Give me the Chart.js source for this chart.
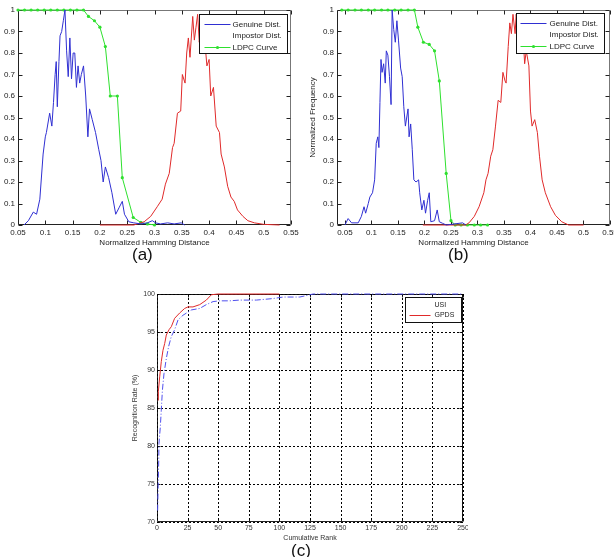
<!DOCTYPE html>
<html>
<head>
<meta charset="utf-8">
<script src="https://cdn.jsdelivr.net/npm/chart.js@4.4.1/dist/chart.umd.min.js"></script>
<style>
  html, body { margin: 0; padding: 0; background: #fff; }
  body { width: 614px; height: 557px; position: relative; overflow: hidden; font-family: "Liberation Sans", Arial, sans-serif; }
  canvas { position: absolute; }
  .tag { position: absolute; font-size: 17px; line-height: 20px; color: #111; }
</style>
</head>
<body>
<canvas id="chartA" width="300" height="250" style="left:0;top:0"></canvas>
<canvas id="chartB" width="314" height="250" style="left:300px;top:0"></canvas>
<canvas id="chartC" width="340" height="262" style="left:128px;top:284px"></canvas>
<div class="tag" style="left:132px;top:245px">(a)</div>
<div class="tag" style="left:448px;top:245px">(b)</div>
<div class="tag" style="left:291px;top:541px">(c)</div>

<script>
// ticks
const hdTicks = [0.05, 0.1, 0.15, 0.2, 0.25, 0.3, 0.35, 0.4, 0.45, 0.5, 0.55];
const hdLabels = ["0.05", "0.1", "0.15", "0.2", "0.25", "0.3", "0.35", "0.4", "0.45", "0.5", "0.55"];
const freqTicks = [0, 0.1, 0.2, 0.3, 0.4, 0.5, 0.6, 0.7, 0.8, 0.9, 1];
const freqLabels = ["0", "0.1", "0.2", "0.3", "0.4", "0.5", "0.6", "0.7", "0.8", "0.9", "1"];
const rankTicks = [0, 25, 50, 75, 100, 125, 150, 175, 200, 225, 250];
const rateTicks = [70, 75, 80, 85, 90, 95, 100];

// (a)
const genAx = [0.061, 0.069, 0.078, 0.084, 0.09, 0.096, 0.1, 0.102, 0.108, 0.112, 0.115, 0.118, 0.12, 0.122, 0.125, 0.127, 0.13, 0.133, 0.136, 0.139, 0.142, 0.145, 0.148, 0.151, 0.154, 0.157, 0.16, 0.163, 0.166, 0.17, 0.174, 0.178, 0.181, 0.186, 0.192, 0.198, 0.202, 0.206, 0.21, 0.216, 0.222, 0.229, 0.235, 0.241, 0.245, 0.253, 0.262, 0.275, 0.287, 0.296, 0.302, 0.311, 0.324, 0.336, 0.349, 0.355];
const genAy = [0, 0.02, 0.06, 0.05, 0.12, 0.33, 0.41, 0.43, 0.52, 0.46, 0.57, 0.7, 0.76, 0.55, 0.76, 0.88, 0.9, 0.95, 1.0, 0.81, 0.69, 0.87, 0.68, 0.8, 0.8, 0.64, 0.74, 0.66, 0.7, 0.74, 0.6, 0.41, 0.54, 0.49, 0.43, 0.35, 0.3, 0.2, 0.27, 0.22, 0.15, 0.05, 0.08, 0.11, 0.05, 0.015, 0.01, 0.005, 0.01, 0.02, 0.01, 0.005, 0.01, 0.005, 0.01, 0];
const impAx = [0.2, 0.262, 0.281, 0.293, 0.305, 0.314, 0.32, 0.327, 0.333, 0.336, 0.342, 0.348, 0.351, 0.356, 0.359, 0.362, 0.365, 0.37, 0.373, 0.376, 0.379, 0.382, 0.385, 0.388, 0.392, 0.396, 0.4, 0.403, 0.408, 0.413, 0.419, 0.422, 0.428, 0.434, 0.44, 0.446, 0.452, 0.462, 0.471, 0.483, 0.5, 0.529];
const impAy = [0, 0, 0.015, 0.04, 0.085, 0.12, 0.19, 0.24, 0.36, 0.38, 0.52, 0.53, 0.7, 0.66, 0.8, 0.87, 0.78, 0.97, 0.86, 0.92, 0.98, 0.85, 0.92, 0.8, 0.86, 0.74, 0.77, 0.6, 0.64, 0.46, 0.43, 0.33, 0.27, 0.18, 0.13, 0.11, 0.07, 0.04, 0.02, 0.01, 0.003, 0];
const ldpcAx = [0.05, 0.062, 0.074, 0.086, 0.098, 0.11, 0.122, 0.134, 0.146, 0.158, 0.17, 0.179, 0.19, 0.2, 0.21, 0.219, 0.232, 0.241, 0.261, 0.275, 0.287, 0.3];
const ldpcAy = [1, 1, 1, 1, 1, 1, 1, 1, 1, 1, 1, 0.97, 0.95, 0.92, 0.83, 0.6, 0.6, 0.22, 0.035, 0.012, 0.005, 0];

// (b)
const genBx = [0.05, 0.056, 0.0625, 0.075, 0.081, 0.086, 0.089, 0.094, 0.097, 0.102, 0.106, 0.109, 0.112, 0.114, 0.116, 0.118, 0.12, 0.123, 0.126, 0.128, 0.131, 0.134, 0.137, 0.139, 0.142, 0.145, 0.148, 0.151, 0.155, 0.158, 0.161, 0.164, 0.169, 0.171, 0.174, 0.177, 0.18, 0.184, 0.189, 0.191, 0.195, 0.199, 0.202, 0.206, 0.209, 0.212, 0.219, 0.224, 0.228, 0.234, 0.241, 0.272, 0.278];
const genBy = [0, 0.03, 0.01, 0.01, 0.04, 0.085, 0.055, 0.1, 0.13, 0.15, 0.21, 0.38, 0.41, 0.36, 0.57, 0.77, 0.71, 0.75, 0.66, 0.81, 0.79, 0.69, 0.56, 1.0, 0.91, 0.85, 0.95, 0.86, 0.73, 0.69, 0.55, 0.46, 0.54, 0.41, 0.47, 0.35, 0.21, 0.2, 0.21, 0.15, 0.07, 0.115, 0.055, 0.115, 0.15, 0.015, 0.02, 0.07, 0.015, 0.008, 0, 0.01, 0];
const impBx = [0.197, 0.278, 0.284, 0.294, 0.303, 0.312, 0.316, 0.32, 0.325, 0.329, 0.334, 0.339, 0.344, 0.348, 0.352, 0.354, 0.358, 0.361, 0.364, 0.367, 0.371, 0.373, 0.377, 0.379, 0.383, 0.386, 0.389, 0.392, 0.397, 0.4, 0.403, 0.408, 0.413, 0.417, 0.422, 0.428, 0.438, 0.447, 0.459, 0.472, 0.5];
const impBy = [0, 0, 0.01, 0.04, 0.085, 0.15, 0.21, 0.24, 0.32, 0.35, 0.46, 0.58, 0.57, 0.71, 0.67, 0.66, 0.83, 0.94, 0.89, 0.98, 0.89, 0.98, 0.91, 0.95, 0.8, 0.88, 0.75, 0.81, 0.74, 0.53, 0.46, 0.49, 0.43, 0.32, 0.21, 0.15, 0.085, 0.045, 0.015, 0, 0];
const ldpcBx = [0.044, 0.056, 0.069, 0.081, 0.094, 0.106, 0.119, 0.131, 0.144, 0.156, 0.169, 0.181, 0.1875, 0.198, 0.209, 0.219, 0.228, 0.241, 0.25, 0.258, 0.269, 0.281, 0.294, 0.306, 0.319];
const ldpcBy = [1, 1, 1, 1, 1, 1, 1, 1, 1, 1, 1, 1, 0.92, 0.85, 0.84, 0.81, 0.67, 0.24, 0.02, 0, 0, 0, 0, 0, 0];

// (c)
const usiRank = [0.5, 0.8, 1.4, 1.6, 2.7, 3.5, 4.4, 5.7, 7.6, 9.5, 11.7, 14.4, 17.2, 21.2, 28, 34.9, 40.3, 45.8, 51.2, 59.4, 67.5, 81.2, 94.8, 103, 116.6, 127.5, 250];
const usiRate = [71.5, 73.7, 77.9, 80.3, 82.5, 84.7, 87.3, 89.5, 91.5, 93.1, 94.4, 95.3, 96.6, 97.2, 97.9, 98.1, 98.6, 99, 99.1, 99.1, 99.2, 99.2, 99.4, 99.6, 99.6, 100, 100];
const gpdsRank = [1, 1.1, 2.2, 3.5, 4.9, 6.3, 7.6, 9.8, 11.7, 14.4, 18.5, 22.6, 25.3, 29.4, 34.9, 40.3, 44.4, 49.8, 100];
const gpdsRate = [86, 87.2, 89.1, 91.1, 92.6, 93.5, 94.6, 95.3, 95.7, 96.8, 97.5, 98.1, 98.3, 98.3, 98.6, 99.2, 99.9, 100, 100];

const BLUE = "#2f2fd2";
const RED = "#e02a2a";
const GREEN = "#2ee02e";

Chart.defaults.font.family = '"Liberation Sans", Arial, sans-serif';
Chart.defaults.font.size = 8;
Chart.defaults.color = "#222";
Chart.defaults.animation = false;

const pts = (xs, ys) => xs.map((x, i) => ({ x, y: ys[i] }));

// matlab style box, inward ticks, optional dotted grid, legend inside the axes
const frame = {
  id: "frame",
  beforeDatasetsDraw(chart, args, o) {
    if (!o.grid) return;
    const { ctx, chartArea: a, scales: { x, y } } = chart;
    ctx.save();
    ctx.strokeStyle = "#000";
    ctx.lineWidth = 1;
    ctx.setLineDash([2, 2]);
    x.ticks.forEach(t => {
      const px = Math.round(x.getPixelForValue(t.value)) + 0.5;
      ctx.beginPath(); ctx.moveTo(px, a.top); ctx.lineTo(px, a.bottom); ctx.stroke();
    });
    y.ticks.forEach(t => {
      const py = Math.round(y.getPixelForValue(t.value)) + 0.5;
      ctx.beginPath(); ctx.moveTo(a.left, py); ctx.lineTo(a.right, py); ctx.stroke();
    });
    ctx.restore();
  },
  beforeDraw(chart, args, o) {
    // box goes under the data, as in matlab the lines sit on top of the top border
    const { ctx, chartArea: a, scales: { x, y } } = chart;
    const L = Math.round(a.left) + 0.5, R = Math.round(a.right) - 0.5;
    const T = Math.round(a.top) + 0.5, B = Math.round(a.bottom) - 0.5;
    const tl = o.tick || 4;
    ctx.save();
    ctx.lineWidth = 1;
    ctx.strokeStyle = o.farColor || "#222";
    ctx.beginPath(); ctx.moveTo(L, T); ctx.lineTo(R, T); ctx.lineTo(R, B); ctx.stroke();
    ctx.strokeStyle = "#222";
    ctx.beginPath(); ctx.moveTo(L, T); ctx.lineTo(L, B); ctx.lineTo(R, B); ctx.stroke();
    x.ticks.forEach(t => {
      const px = Math.round(x.getPixelForValue(t.value)) + 0.5;
      ctx.beginPath();
      ctx.moveTo(px, B); ctx.lineTo(px, B - tl);
      ctx.moveTo(px, T); ctx.lineTo(px, T + tl);
      ctx.stroke();
    });
    y.ticks.forEach(t => {
      const py = Math.round(y.getPixelForValue(t.value)) + 0.5;
      ctx.beginPath();
      ctx.moveTo(L, py); ctx.lineTo(L + tl, py);
      ctx.moveTo(R, py); ctx.lineTo(R - tl, py);
      ctx.stroke();
    });
    ctx.restore();
  },
  afterDatasetsDraw(chart, args, o) {
    const { ctx, chartArea: a } = chart;
    const lg = o.legend;
    if (!lg) return;
    ctx.save();
    const bx = Math.round(a.right - lg.right - lg.width) + 0.5;
    const by = Math.round(a.top + lg.top) + 0.5;
    ctx.fillStyle = "#fff";
    ctx.fillRect(bx, by, lg.width, lg.height);
    ctx.strokeStyle = "#111";
    ctx.lineWidth = 1;
    ctx.strokeRect(bx, by, lg.width, lg.height);
    ctx.font = `${lg.size}px "Liberation Sans", Arial, sans-serif`;
    ctx.textBaseline = "middle";
    chart.data.datasets.forEach((ds, i) => {
      const ry = Math.round(by + lg.first + i * lg.rowH) + 0.5;
      if (!lg.hide.includes(i)) {
        ctx.strokeStyle = ds.borderColor;
        ctx.setLineDash(ds.borderDash || []);
        ctx.beginPath(); ctx.moveTo(bx + lg.x0, ry); ctx.lineTo(bx + lg.x1, ry); ctx.stroke();
        ctx.setLineDash([]);
        if (ds.pointRadius > 0) {
          ctx.fillStyle = ds.borderColor;
          ctx.beginPath(); ctx.arc(bx + (lg.x0 + lg.x1) / 2, ry, ds.pointRadius, 0, Math.PI * 2); ctx.fill();
        }
      }
      ctx.fillStyle = "#222";
      ctx.fillText(ds.label, bx + lg.tx, ry);
    });
    ctx.restore();
  },
};

function scales(cfg) {
  return {
    x: {
      type: "linear",
      min: cfg.xMin, max: cfg.xMax,
      afterBuildTicks: s => { s.ticks = cfg.xTicks.map(v => ({ value: v })); },
      afterFit: s => { s.height = cfg.xH; s.paddingLeft = 0; s.paddingRight = 0; },
      grid: { display: false, drawTicks: false },
      border: { display: false },
      ticks: { padding: cfg.xPad, autoSkip: false, maxRotation: 0, callback: (v, i) => cfg.xLabels[i], font: { size: cfg.fs }, color: cfg.tc },
      title: { display: true, text: cfg.xTitle, padding: { top: 0, bottom: cfg.xTitlePad }, font: { size: cfg.fs }, color: cfg.tc },
    },
    y: {
      type: "linear",
      min: cfg.yMin, max: cfg.yMax,
      afterBuildTicks: s => { s.ticks = cfg.yTicks.map(v => ({ value: v })); },
      afterFit: s => { s.width = cfg.yW; s.paddingTop = 0; s.paddingBottom = 0; },
      grid: { display: false, drawTicks: false },
      border: { display: false },
      ticks: { padding: cfg.yPad, autoSkip: false, callback: (v, i) => cfg.yLabels[i], font: { size: cfg.fs }, color: cfg.tc },
      title: { display: !!cfg.yTitle, text: cfg.yTitle || "", padding: { top: cfg.yTitlePad || 0, bottom: 0 }, font: { size: cfg.fs }, color: cfg.tc },
    },
  };
}

const line = (label, data, color, extra = {}) => ({
  label, data,
  borderColor: color, backgroundColor: color,
  borderWidth: 1, pointRadius: 0, tension: 0, fill: false, clip: false,
  ...extra,
});

function distChart(id, gen, imp, ldpc, sc, legend) {
  return new Chart(document.getElementById(id), {
    type: "line",
    data: {
      datasets: [
        line("Genuine Dist.", gen, BLUE),
        line("Impostor Dist.", imp, RED),
        line("LDPC Curve", ldpc, GREEN, { pointRadius: 1.6, pointBorderWidth: 0 }),
      ],
    },
    options: {
      responsive: false,
      events: [],
      layout: { padding: sc.pad },
      plugins: {
        legend: { display: false },
        tooltip: { enabled: false },
        frame: { tick: 4, farColor: "#777", legend },
      },
      scales: scales(sc),
    },
    plugins: [frame],
  });
}

distChart("chartA", pts(genAx, genAy), pts(impAx, impAy), pts(ldpcAx, ldpcAy), {
  pad: { top: 10, right: 9, left: 0, bottom: 0 },
  xMin: 0.05, xMax: 0.55, xTicks: hdTicks, xLabels: hdLabels, xH: 25, xPad: 3, xTitle: "Normalized Hamming Distance", xTitlePad: 2,
  yMin: 0, yMax: 1, yTicks: freqTicks, yLabels: freqLabels, yW: 18, yPad: 3,
  fs: 8, tc: "#222",
}, { right: 4, top: 4, width: 88, height: 39, first: 9, rowH: 11.5, x0: 5, x1: 31, tx: 33, size: 8, hide: [1] });

distChart("chartB", pts(genBx, genBy), pts(impBx, impBy), pts(ldpcBx, ldpcBy), {
  pad: { top: 10, right: 2, left: 0, bottom: 0 },
  xMin: 0.035, xMax: 0.55, xTicks: hdTicks, xLabels: hdLabels, xH: 25, xPad: 3, xTitle: "Normalized Hamming Distance", xTitlePad: 2,
  yMin: 0, yMax: 1, yTicks: freqTicks, yLabels: freqLabels, yW: 37, yPad: 3, yTitle: "Normalized Frequency", yTitlePad: 8,
  fs: 8, tc: "#222",
}, { right: 6, top: 3, width: 88, height: 40, first: 9, rowH: 11.5, x0: 4, x1: 30, tx: 33, size: 8, hide: [1] });

new Chart(document.getElementById("chartC"), {
  type: "line",
  data: {
    datasets: [
      line("USI", pts(usiRank, usiRate), "#5050ee", { borderDash: [6, 2, 1, 2] }),
      line("GPDS", pts(gpdsRank, gpdsRate), RED),
    ],
  },
  options: {
    responsive: false,
    events: [],
    layout: { padding: { top: 10, right: 5, left: 0, bottom: 0 } },
    plugins: {
      legend: { display: false },
      tooltip: { enabled: false },
      frame: { grid: true, tick: 3, farColor: "#111", legend: { right: 2, top: 3, width: 56, height: 25, first: 7.5, rowH: 10, x0: 4, x1: 25, tx: 29, size: 7, hide: [0] } },
    },
    scales: scales({
      xMin: 0, xMax: 250, xTicks: rankTicks, xLabels: rankTicks.map(String), xH: 24, xPad: 2, xTitle: "Cumulative Rank", xTitlePad: 4,
      yMin: 70, yMax: 100, yTicks: rateTicks, yLabels: rateTicks.map(String), yW: 29, yPad: 2, yTitle: "Recognition Rate (%)", yTitlePad: 3,
      fs: 7, tc: "#333",
    }),
  },
  plugins: [frame],
});
</script>
</body>
</html>
